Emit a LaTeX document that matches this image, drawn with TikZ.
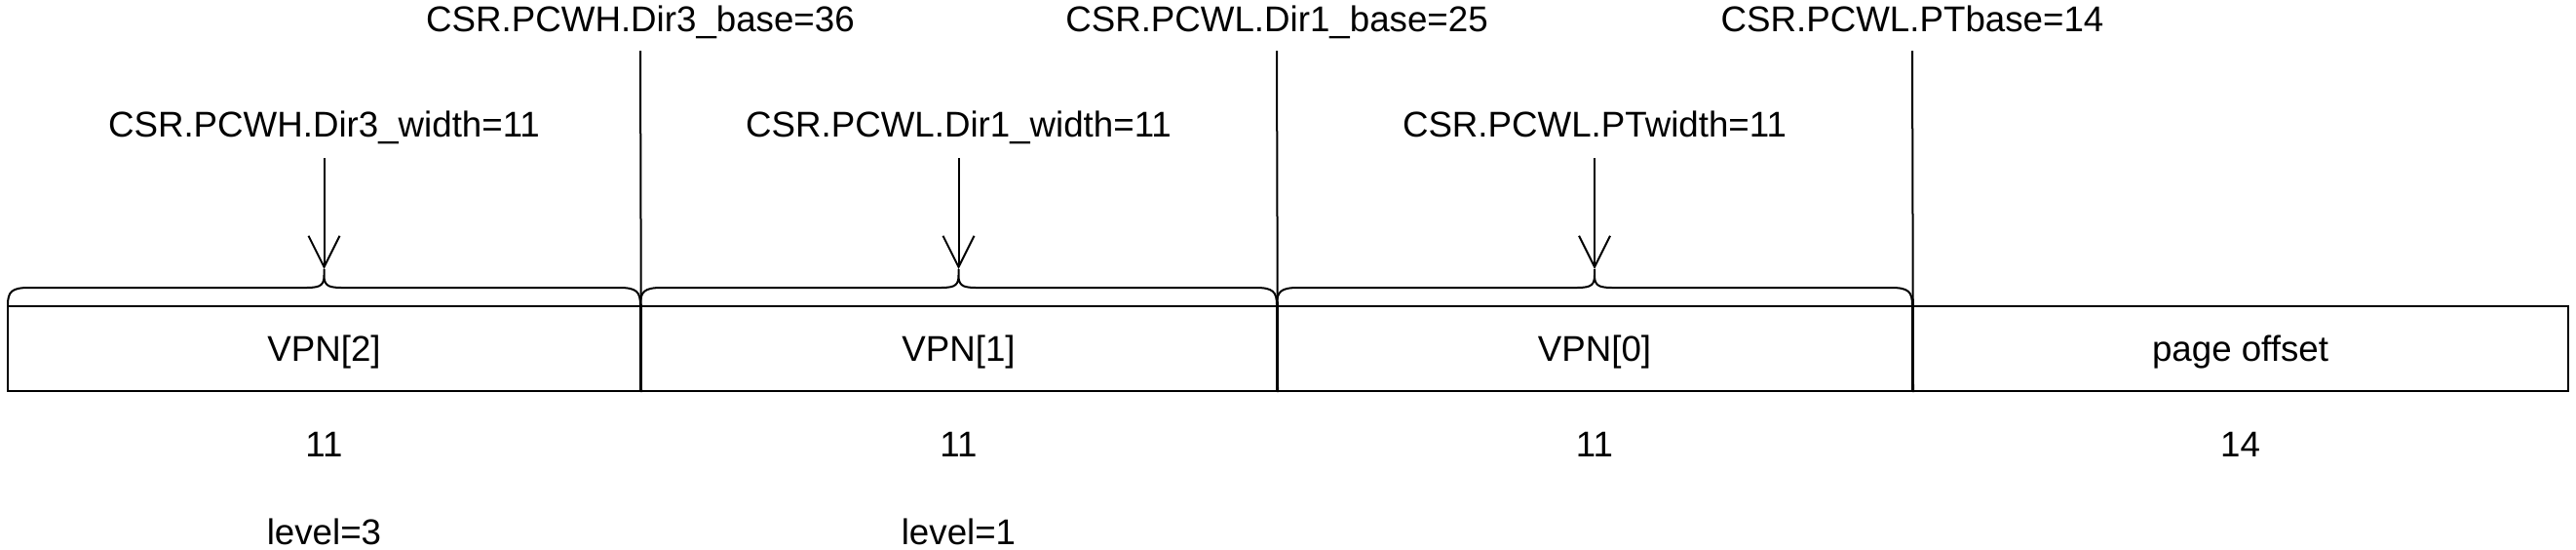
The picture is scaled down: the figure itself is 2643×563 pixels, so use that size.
\documentclass[tikz,border=0pt]{standalone}
\usepackage{fontspec}
\setmainfont{Liberation Sans}
\usetikzlibrary{arrows.meta}
\begin{document}
\begin{tikzpicture}[x=1pt,y=-1pt,
  txt/.style={font=\fontsize{36.7}{44}\selectfont, inner sep=0pt, anchor=base},
  seg/.style={draw, line width=2pt, minimum height=87pt, inner sep=0pt,
    font=\fontsize{36.7}{44}\selectfont, text height=26pt, text depth=0pt},
  ln/.style={line width=2pt},
  arr/.style={line width=2pt, -{Straight Barb[length=32pt,width=32pt]}},
  brc/.style={line width=2pt, line join=round}]
\useasboundingbox (0,0) rectangle (2643,563);

% segments
\node[seg, minimum width=649pt] (s2) at (332.5,357.5) {VPN[2]};
\node[seg, minimum width=653pt] (s1) at (983.5,357.5) {VPN[1]};
\node[seg, minimum width=652pt] (s0) at (1636,357.5) {VPN[0]};
\node[seg, minimum width=673pt] (po) at (2298.5,357.5) {page offset};

% base labels and divider lines
\node[txt] (b3) at (657,32.6) {CSR.PCWH.Dir3\_base=36};
\node[txt] (b1) at (1310,32.6) {CSR.PCWL.Dir1\_base=25};
\node[txt] (bp) at (1962,32.6) {CSR.PCWL.PTbase=14};
\coordinate (v3) at (657,52);
\coordinate (v1) at (1310,52);
\coordinate (vp) at (1962,52);
\draw[ln] (v3) -- (s2.south east);
\draw[ln] (v1) -- (s1.south east);
\draw[ln] (vp) -- (s0.south east);

% width labels and arrows
\node[txt] (w3) at (332.5,140.6) {CSR.PCWH.Dir3\_width=11};
\node[txt] (w1) at (983.5,140.6) {CSR.PCWL.Dir1\_width=11};
\node[txt] (wp) at (1636,140.6) {CSR.PCWL.PTwidth=11};
\coordinate (a3) at (332.5,162);
\coordinate (a1) at (983.5,162);
\coordinate (ap) at (1636,162);
\coordinate (t3) at (332.5,276);
\coordinate (t1) at (983.5,276);
\coordinate (tp) at (1636,276);
\draw[arr] (a3) -- (t3);
\draw[arr] (a1) -- (t1);
\draw[arr] (ap) -- (tp);

% braces
\foreach \a/\c/\b in {8/332.5/657, 657/983.5/1310, 1310/1636/1962}{
  \draw[brc] (\a,313) .. controls (\a,299) and (\a+4,295) .. (\a+22,295)
    -- (\c-18,295) .. controls (\c-3,295) and (\c,292) .. (\c,282) -- (\c,276)
    (\c,282) .. controls (\c,292) and (\c+3,295) .. (\c+18,295)
    -- (\b-22,295) .. controls (\b-4,295) and (\b,299) .. (\b,313);
}

% sizes
\node[txt] (n3) at (332.5,468) {11};
\node[txt] (n1) at (983.5,468) {11};
\node[txt] (n0) at (1636,468) {11};
\node[txt] (n4) at (2298.5,468) {14};

% levels
\node[txt] (l3) at (332.5,558) {level=3};
\node[txt] (l1) at (983.5,558) {level=1};
\end{tikzpicture}
\end{document}
